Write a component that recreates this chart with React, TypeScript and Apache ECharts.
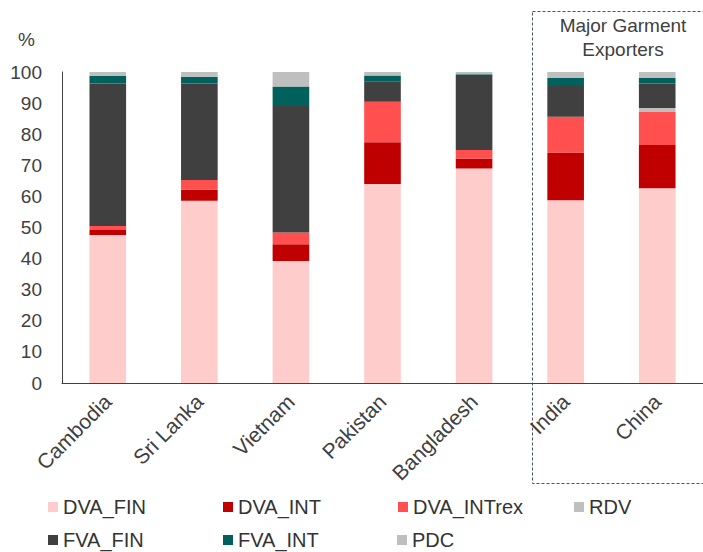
import React, { useEffect, useRef } from "react";
import * as echarts from "echarts";

// Value-added decomposition of garment exports (% of gross exports)
const countries = ["Cambodia", "Sri Lanka", "Vietnam", "Pakistan", "Bangladesh", "India", "China"];

const dvaFin = [47.6, 58.6, 39.2, 64.0, 69.0, 58.8, 62.6];
const dvaInt = [1.6, 3.5, 5.4, 13.4, 3.2, 15.3, 13.9];
const dvaIntRex = [1.3, 3.2, 3.8, 13.0, 2.7, 11.5, 10.6];
const rdv = [0, 0, 0, 0, 0, 0, 1.3];
const fvaFin = [45.8, 31.0, 40.7, 6.6, 24.1, 9.9, 7.9];
const fvaInt = [2.4, 2.2, 6.2, 1.9, 0.3, 2.6, 1.8];
const pdc = [1.3, 1.5, 4.7, 1.1, 0.7, 1.9, 1.9];

const yTicks = { min: 0, max: 100, interval: 10 };

const seriesDefs = [
  { name: "DVA_FIN", data: dvaFin, color: "#FFCCCC" },
  { name: "DVA_INT", data: dvaInt, color: "#C00000" },
  { name: "DVA_INTrex", data: dvaIntRex, color: "#FF4F4F" },
  { name: "RDV", data: rdv, color: "#BFBFBF" },
  { name: "FVA_FIN", data: fvaFin, color: "#404040" },
  { name: "FVA_INT", data: fvaInt, color: "#00605C" },
  { name: "PDC", data: pdc, color: "#BFBFBF" },
];

// legend slots: [left, top] for each series' entry
const legendSlots: Record<string, [number, number]> = {
  DVA_FIN: [48, 497],
  DVA_INT: [223, 497],
  DVA_INTrex: [398, 497],
  RDV: [574, 497],
  FVA_FIN: [48, 530],
  FVA_INT: [223, 530],
  PDC: [397, 530],
};

const FONT = "'Liberation Sans', Arial, sans-serif";
const TEXT = "#404040";

export default function App() {
  const ref = useRef<HTMLDivElement>(null);

  useEffect(() => {
    document.body.style.margin = "0";
    if (!ref.current) return;
    const chart = echarts.init(ref.current, null, { renderer: "svg" });

    const option = {
      animation: false,
      backgroundColor: "#ffffff",
      textStyle: { fontFamily: FONT },
      grid: { left: 62, top: 72, width: 656, height: 311 },
      xAxis: {
        type: "category",
        data: countries,
        axisLine: { show: true, lineStyle: { color: "#404040", width: 1 } },
        axisTick: { show: false },
        axisLabel: {
          rotate: 45,
          margin: 15,
          interval: 0,
          fontSize: 21,
          color: TEXT,
          fontFamily: FONT,
        },
      },
      yAxis: {
        type: "value",
        min: yTicks.min,
        max: yTicks.max,
        interval: yTicks.interval,
        axisLine: { show: true, lineStyle: { color: "#404040", width: 1 } },
        axisTick: { show: false },
        splitLine: { show: false },
        axisLabel: { fontSize: 19, color: TEXT, margin: 20, fontFamily: FONT },
      },
      legend: seriesDefs.map((s) => ({
        data: [s.name],
        left: legendSlots[s.name][0],
        top: legendSlots[s.name][1],
        padding: 0,
        icon: "rect",
        itemWidth: 10,
        itemHeight: 10,
        selectedMode: false,
        textStyle: { fontSize: 20, color: "#333333", fontFamily: FONT },
      })),
      series: seriesDefs.map((s) => ({
        name: s.name,
        type: "bar",
        stack: "total",
        barWidth: "40%",
        data: s.data,
        itemStyle: { color: s.color },
        emphasis: { disabled: true },
      })),
      graphic: [
        {
          type: "text",
          left: 18,
          top: 30,
          style: { text: "%", fontSize: 19, fill: TEXT, fontFamily: FONT },
        },
        {
          type: "rect",
          shape: { x: 532.5, y: 11.5, width: 300, height: 472 },
          style: { fill: "none", stroke: "#44546A", lineWidth: 1, lineDash: [3, 2] },
          silent: true,
        },
        {
          type: "text",
          x: 623,
          y: 25,
          style: {
            text: "Major Garment",
            fontSize: 19,
            fill: TEXT,
            fontFamily: FONT,
            align: "center",
            verticalAlign: "middle",
          },
        },
        {
          type: "text",
          x: 623,
          y: 49,
          style: {
            text: "Exporters",
            fontSize: 19,
            fill: TEXT,
            fontFamily: FONT,
            align: "center",
            verticalAlign: "middle",
          },
        },
      ],
    };

    chart.setOption(option);
    return () => chart.dispose();
  }, []);

  return <div ref={ref} style={{ width: 703, height: 552 }} />;
}
